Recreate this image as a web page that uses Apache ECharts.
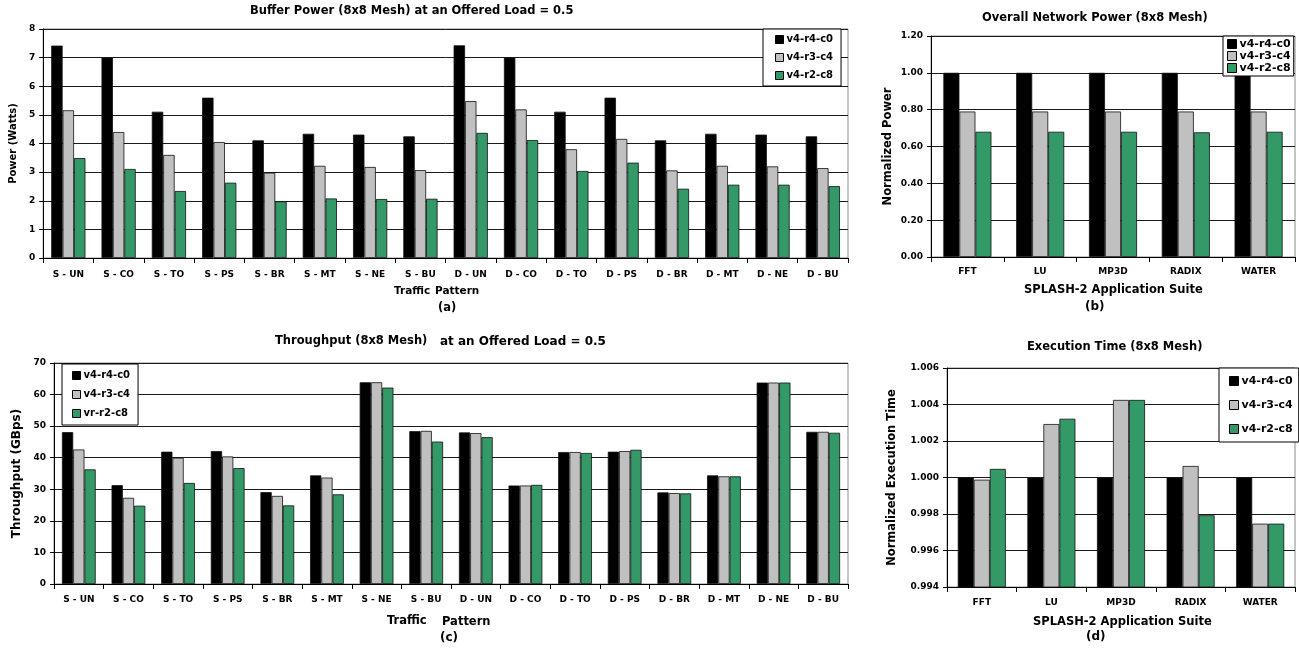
<!DOCTYPE html>
<html>
<head>
<meta charset="utf-8">
<style>
  html, body { margin: 0; padding: 0; background: #fff; }
  #main { width: 1299px; height: 649px; }
</style>
<script src="https://cdn.jsdelivr.net/npm/echarts@6/dist/echarts.min.js"></script>
</head>
<body>
<div id="main"></div>
<script>
// traffic patterns (charts a and c)
var trafficCats = ['S - UN', 'S - CO', 'S - TO', 'S - PS', 'S - BR', 'S - MT', 'S - NE', 'S - BU',
                   'D - UN', 'D - CO', 'D - TO', 'D - PS', 'D - BR', 'D - MT', 'D - NE', 'D - BU'];
// SPLASH-2 apps (charts b and d)
var appCats = ['FFT', 'LU', 'MP3D', 'RADIX', 'WATER'];

// (a) buffer power, watts
var bufR4C0 = [7.42, 7.0, 5.11, 5.6, 4.11, 4.34, 4.31, 4.25, 7.43, 7.0, 5.11, 5.6, 4.11, 4.34, 4.31, 4.25];
var bufR3C4 = [5.16, 4.4, 3.6, 4.05, 2.98, 3.22, 3.18, 3.07, 5.48, 5.19, 3.8, 4.16, 3.06, 3.22, 3.2, 3.14];
var bufR2C8 = [3.49, 3.11, 2.34, 2.63, 1.98, 2.08, 2.06, 2.07, 4.37, 4.12, 3.04, 3.33, 2.42, 2.56, 2.56, 2.51];

// (b) overall network power, normalized
var pwrR4C0 = [1.0, 1.0, 1.0, 1.0, 1.0];
var pwrR3C4 = [0.79, 0.79, 0.79, 0.79, 0.79];
var pwrR2C8 = [0.68, 0.68, 0.68, 0.677, 0.68];

// (c) throughput, GBps
var thrR4C0 = [48.1, 31.3, 41.9, 42.1, 29.1, 34.4, 63.9, 48.4, 48.0, 31.2, 41.8, 41.9, 29.0, 34.4, 63.8, 48.2];
var thrR3C4 = [42.6, 27.3, 40.0, 40.4, 27.9, 33.7, 63.9, 48.5, 47.8, 31.2, 41.8, 42.1, 28.8, 34.1, 63.8, 48.2];
var thrR2C8 = [36.3, 24.8, 32.0, 36.7, 24.9, 28.4, 62.2, 45.1, 46.5, 31.4, 41.5, 42.5, 28.7, 34.1, 63.8, 47.9];

// (d) execution time, normalized
var exeR4C0 = [1.0, 1.0, 1.0, 1.0, 1.0];
var exeR3C4 = [0.99988, 1.00293, 1.00425, 1.00063, 0.99747];
var exeR2C8 = [1.00047, 1.00322, 1.00425, 0.99793, 0.99747];

var FONT = '"DejaVu Sans", Verdana, sans-serif';
var BLACK = '#000000', GRAY = '#c0c0c0', GREEN = '#339966';

var myChart = echarts.init(document.getElementById('main'));

function xAxis(idx, cats, fs, margin) {
  return {
    type: 'category', gridIndex: idx, data: cats,
    axisLine: { lineStyle: { color: '#000', width: 1 } },
    axisTick: { show: true, length: 5, lineStyle: { color: '#000' } },
    axisLabel: { color: '#000', fontFamily: FONT, fontWeight: 'bold', fontSize: fs, margin: margin, interval: 0 }
  };
}

function yAxis(idx, min, max, step, digits, name, nameSize, nameGap) {
  return {
    type: 'value', gridIndex: idx, min: min, max: max, interval: step,
    name: name, nameLocation: 'middle', nameGap: nameGap, nameRotate: 90,
    nameTextStyle: { color: '#000', fontFamily: FONT, fontWeight: 'bold', fontSize: nameSize },
    axisLine: { show: true, lineStyle: { color: '#000', width: 1 } },
    axisTick: { show: true, length: 4, lineStyle: { color: '#000' } },
    axisLabel: {
      color: '#000', fontFamily: FONT, fontWeight: 'bold', fontSize: 9, margin: 8,
      formatter: function (v) { return v.toFixed(digits); }
    },
    splitLine: { show: true, lineStyle: { color: '#1a1a1a', width: 1 } }
  };
}

function bars(idx, name, color, data, gap) {
  return {
    type: 'bar', name: name, xAxisIndex: idx, yAxisIndex: idx, data: data,
    barGap: '0%', barCategoryGap: gap,
    itemStyle: { color: color, borderColor: '#111', borderWidth: 0.8 },
    emphasis: { disabled: true }
  };
}

function legend(names, left, top, width, fs, icon, gap, pad) {
  return {
    data: names, orient: 'vertical', left: left, top: top, width: width,
    backgroundColor: '#fff', borderColor: '#000', borderWidth: 1,
    padding: pad, itemGap: gap, itemWidth: icon, itemHeight: icon, icon: 'rect',
    itemStyle: { borderColor: '#000', borderWidth: 1 },
    textStyle: { color: '#000', fontFamily: FONT, fontWeight: 'bold', fontSize: fs, lineHeight: fs + 1, padding: [0, 0, 0, -2] },
    selectedMode: false
  };
}

function txt(x, y, s, fs) {
  return {
    type: 'text', x: x, y: y,
    style: { text: s, fill: '#000', font: 'bold ' + fs + 'px ' + FONT, textAlign: 'left', textVerticalAlign: 'middle' }
  };
}

myChart.setOption({
  backgroundColor: '#fff',
  animation: false,
  grid: [
    { left: 36, top: 29, width: 812, height: 229, show: true, borderColor: '#8c8c8c', borderWidth: 1 },
    { left: 931, top: 36, width: 364, height: 221, show: true, borderColor: '#8c8c8c', borderWidth: 1 },
    { left: 54, top: 363, width: 794, height: 221, show: true, borderColor: '#8c8c8c', borderWidth: 1 },
    { left: 947, top: 368, width: 348, height: 219, show: true, borderColor: '#8c8c8c', borderWidth: 1 }
  ],
  xAxis: [
    xAxis(0, trafficCats, 9, 12),
    xAxis(1, appCats, 9, 10),
    xAxis(2, trafficCats, 9, 11),
    xAxis(3, appCats, 9, 11)
  ],
  yAxis: [
    yAxis(0, 0, 8, 1, 0, 'Power (Watts)', 10, 18),
    yAxis(1, 0, 1.2, 0.2, 2, 'Normalized Power', 11.5, 37),
    yAxis(2, 0, 70, 10, 0, 'Throughput (GBps)', 12, 21),
    yAxis(3, 0.994, 1.006, 0.002, 3, 'Normalized Execution Time', 11.5, 49)
  ],
  legend: [
    legend(['v4-r4-c0', 'v4-r3-c4', 'v4-r2-c8'], 763, 29, 86, 10, 8, 7, [5, 8, 5, 12]),
    legend(['v4-r4-c0', 'v4-r3-c4', 'v4-r2-c8'], 1223, 36, 70, 11, 9, 0, [2, 3, 2, 4]),
    legend(['v4-r4-c0', 'v4-r3-c4', 'vr-r2-c8'], 62, 364, 76, 10, 8, 8, [6, 8, 6, 10]),
    legend(['v4-r4-c0', 'v4-r3-c4', 'v4-r2-c8'], 1219, 368, 76, 11, 9, 12, [7, 6, 7, 10])
  ],
  graphic: [
    txt(250, 11, 'Buffer Power (8x8 Mesh) at an Offered Load = 0.5', 11.5),
    txt(394, 291, 'Traffic', 10.5),
    txt(435, 291, 'Pattern', 10.5),
    txt(438, 308, '(a)', 11.5),
    txt(982, 18, 'Overall Network Power (8x8 Mesh)', 11.5),
    txt(1024, 290, 'SPLASH-2 Application Suite', 11.5),
    txt(1085, 307, '(b)', 12),
    txt(275, 341, 'Throughput (8x8 Mesh)', 11.5),
    txt(440, 342, 'at an Offered Load = 0.5', 12),
    txt(387, 621, 'Traffic', 11.5),
    txt(442, 622, 'Pattern', 11.5),
    txt(440, 638, '(c)', 12),
    txt(1027, 347, 'Execution Time (8x8 Mesh)', 11.5),
    txt(1033, 622, 'SPLASH-2 Application Suite', 11.5),
    txt(1086, 637, '(d)', 12)
  ],
  series: [
    bars(0, 'v4-r4-c0', BLACK, bufR4C0, '32%'),
    bars(0, 'v4-r3-c4', GRAY, bufR3C4, '32%'),
    bars(0, 'v4-r2-c8', GREEN, bufR2C8, '32%'),
    bars(1, 'v4-r4-c0', BLACK, pwrR4C0, '34%'),
    bars(1, 'v4-r3-c4', GRAY, pwrR3C4, '34%'),
    bars(1, 'v4-r2-c8', GREEN, pwrR2C8, '34%'),
    bars(2, 'v4-r4-c0', BLACK, thrR4C0, '32%'),
    bars(2, 'v4-r3-c4', GRAY, thrR3C4, '32%'),
    bars(2, 'vr-r2-c8', GREEN, thrR2C8, '32%'),
    bars(3, 'v4-r4-c0', BLACK, exeR4C0, '31%'),
    bars(3, 'v4-r3-c4', GRAY, exeR3C4, '31%'),
    bars(3, 'v4-r2-c8', GREEN, exeR2C8, '31%')
  ]
});
</script>
</body>
</html>
